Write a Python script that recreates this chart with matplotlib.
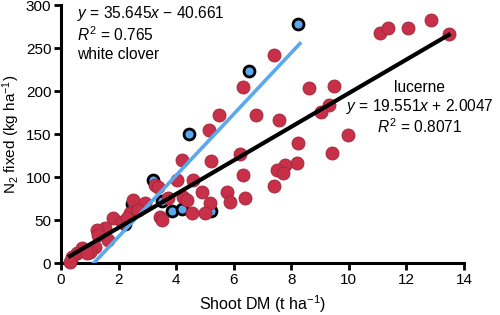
import matplotlib
matplotlib.use('Agg')
import matplotlib.pyplot as plt
import numpy as np

plt.rcParams['font.family'] = ['Liberation Sans', 'DejaVu Sans']
plt.rcParams['mathtext.fontset'] = 'custom'
plt.rcParams['mathtext.rm'] = 'Liberation Sans'
plt.rcParams['mathtext.it'] = 'Liberation Sans:italic'

# lucerne (red) points
lucerne_x = [11.08, 11.35, 12.05, 12.85, 13.47, 7.40, 6.32, 5.49, 6.77, 5.14, 8.61, 9.48,
             9.31, 9.03, 7.57, 9.97, 8.23, 9.41, 8.19, 7.78, 7.50, 7.71, 7.40,
             4.20, 5.21, 6.22, 6.32, 3.26, 3.37, 4.03, 4.58, 4.90, 5.76, 4.24, 4.38,
             5.87, 6.39, 5.17, 3.72, 2.74, 5.00, 4.55,
             2.50, 2.92, 2.40, 2.67, 1.80, 1.53, 1.25, 1.63, 1.28, 1.18, 1.00, 0.73,
             0.56, 0.38, 0.31, 0.90, 2.12, 2.29, 3.44, 3.50]
lucerne_y = [267, 273, 273, 283, 266, 242, 205, 172, 172, 155, 203, 206,
             184, 176, 166, 149, 140, 128, 116, 114, 108, 105, 90,
             120, 119, 127, 102, 91, 88, 97, 97, 83, 83, 77, 73,
             71, 76, 70, 76, 65, 58, 58,
             73, 70, 58, 62, 52, 41, 38, 27, 33, 19, 13, 17,
             12, 7, 1, 12, 48, 52, 53, 50]

# white clover (blue) points
clover_x = [8.25, 6.53, 4.44, 3.20, 3.52, 3.85, 4.20, 5.22, 2.22, 2.45]
clover_y = [278, 223, 150, 97, 72, 60, 63, 60, 45, 69]

# fitted lines
clover_a, clover_b = 35.645, -40.661
lucerne_a, lucerne_b = 19.551, 2.0047

fig = plt.figure(figsize=(5, 3.15), dpi=100)
ax = fig.add_axes([0.122, 0.165, 0.806, 0.819])

ax.scatter(clover_x, clover_y, s=62, color='#5aa9ef', edgecolors='black',
           linewidths=2, zorder=2, clip_on=False)
ax.scatter(lucerne_x, lucerne_y, s=88, color='#c8304a', edgecolors='#9a2a3a',
           linewidths=0.6, zorder=3, clip_on=False)

xc = np.array([-clover_b / clover_a, 8.3])
ax.plot(xc, clover_a * xc + clover_b, color='#5aa9ef', lw=2.6, zorder=4)
xl = np.array([0.31, 13.47])
ax.plot(xl, lucerne_a * xl + lucerne_b, color='black', lw=3, zorder=5)

ax.set_xlim(0, 14)
ax.set_ylim(0, 300)
ax.set_xticks(np.arange(0, 15, 2))
ax.set_yticks(np.arange(0, 301, 50))
for s in ['top', 'right']:
    ax.spines[s].set_visible(False)
for s in ['left', 'bottom']:
    ax.spines[s].set_linewidth(2.2)
ax.tick_params(width=2, length=5, labelsize=11, pad=2)

ax.set_xlabel('Shoot DM (t ha$^{-1}$)', fontsize=11.5, labelpad=5)
ax.set_ylabel('N$_2$ fixed (kg ha$^{-1}$)', fontsize=11, labelpad=3)

ax.text(0.55, 290, '$y$ = 35.645$x$ − 40.661', fontsize=11.2, va='center')
ax.text(0.55, 266, '$R^2$ = 0.765', fontsize=11.2, va='center')
ax.text(0.55, 242, 'white clover', fontsize=11.2, va='center')

ax.text(12.45, 204, 'lucerne', fontsize=11.2, va='center', ha='center')
ax.text(12.45, 182, '$y$ = 19.551$x$ + 2.0047', fontsize=11.2, va='center', ha='center')
ax.text(12.45, 159, '$R^2$ = 0.8071', fontsize=11.2, va='center', ha='center')

fig.savefig('out.png', dpi=100)
